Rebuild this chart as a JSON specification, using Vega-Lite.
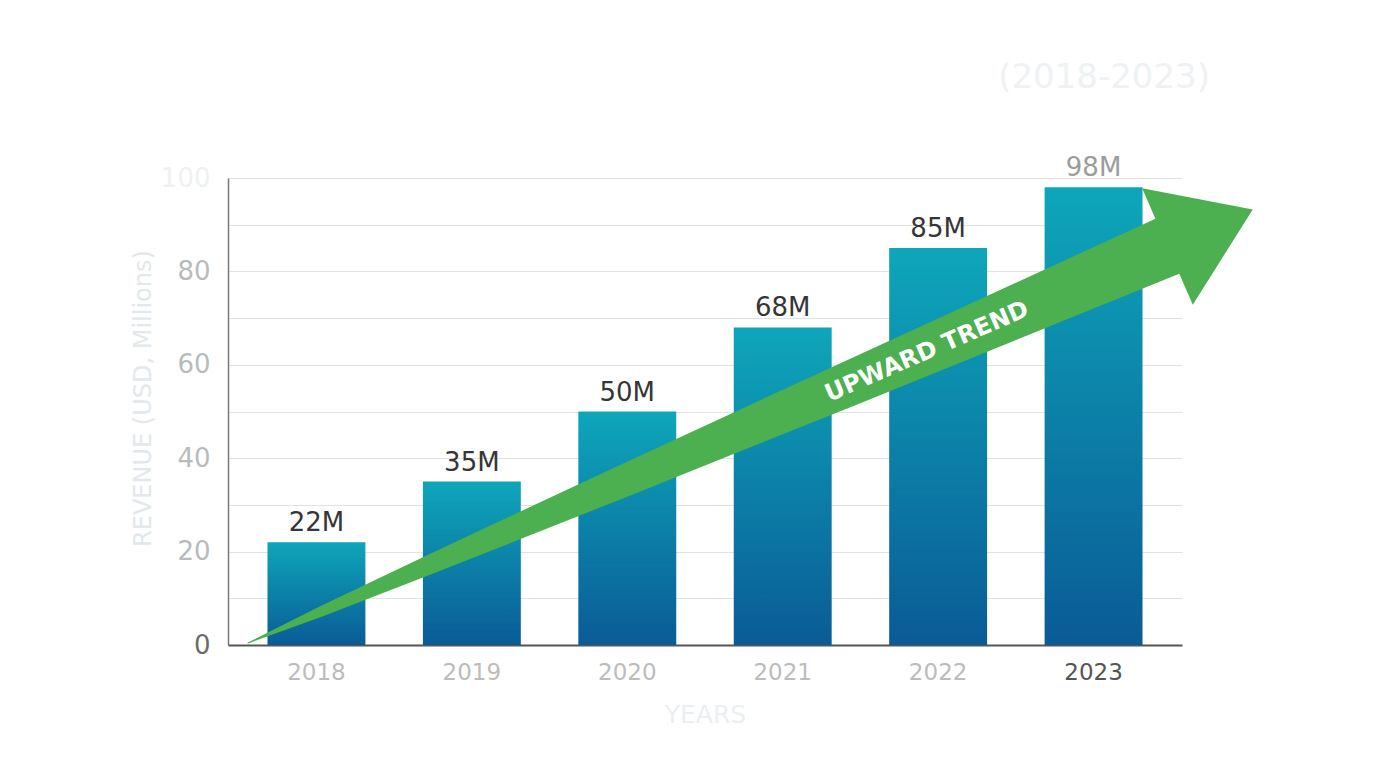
{
  "$schema": "https://vega.github.io/schema/vega-lite/v6.json",
  "autosize": {"type": "none"},
  "width": 954,
  "height": 467,
  "padding": {"left": 228, "top": 178, "right": 194, "bottom": 123},
  "background": "white",
  "config": {"font": "DejaVu Sans", "view": {"stroke": null}},
  "title": {
    "text": "(2018-2023)",
    "anchor": "end",
    "frame": "group",
    "fontSize": 34,
    "fontWeight": "normal",
    "color": "#eef2f5",
    "dx": 28,
    "offset": 60
  },
  "datasets": {
    "revenue": [
      {"year": "2018", "revenue": 22, "label": "22M"},
      {"year": "2019", "revenue": 35, "label": "35M"},
      {"year": "2020", "revenue": 50, "label": "50M"},
      {"year": "2021", "revenue": 68, "label": "68M"},
      {"year": "2022", "revenue": 85, "label": "85M"},
      {"year": "2023", "revenue": 98, "label": "98M"}
    ],
    "shaft": [
      {"pos": 2017.559, "level": 0.43, "t": 0},
      {"pos": 2018.033, "level": 7.24, "t": 0.08},
      {"pos": 2018.743, "level": 17.43, "t": 0.2},
      {"pos": 2019.927, "level": 34.43, "t": 0.4},
      {"pos": 2021.407, "level": 55.67, "t": 0.65},
      {"pos": 2023.479, "level": 85.44, "t": 1}
    ],
    "head": [
      {"pos": 2023.476, "level": 85.33}
    ],
    "note": [
      {"pos": 2021.929, "level": 62.74, "text": "UPWARD TREND"}
    ]
  },
  "resolve": {"scale": {"x": "independent"}},
  "layer": [
    {
      "data": {"name": "revenue"},
      "encoding": {
        "x": {
          "field": "year",
          "type": "nominal",
          "sort": null,
          "scale": {"paddingInner": 0.37, "paddingOuter": 0.254},
          "axis": {
            "title": "YEARS",
            "titleFontSize": 25,
            "titleFontWeight": "normal",
            "titleColor": "#eaeff3",
            "titlePadding": 18,
            "labelAngle": 0,
            "labelFontSize": 23,
            "labelColor": {"condition": {"test": "datum.label === '2023'", "value": "#555555"}, "value": "#bcbcbc"},
            "labelPadding": 16,
            "ticks": false,
            "domainColor": "#555555",
            "domainWidth": 2,
            "grid": false
          }
        },
        "y": {
          "field": "revenue",
          "type": "quantitative",
          "scale": {"domain": [0, 100], "nice": false},
          "axis": {
            "title": "REVENUE (USD, Millions)",
            "titleFontSize": 24,
            "titleFontWeight": "normal",
            "titleColor": "#e2e8ec",
            "titleBaseline": "alphabetic",
            "titleX": -78,
            "titleY": 220,
            "values": [0, 10, 20, 30, 40, 50, 60, 70, 80, 90, 100],
            "labelExpr": "datum.value % 20 === 0 ? datum.label : ''",
            "labelFontSize": 26,
            "labelColor": {
              "condition": [
                {"test": "datum.value === 0", "value": "#6b6b6b"},
                {"test": "datum.value === 100", "value": "#eef1f3"}
              ],
              "value": "#b8bbbd"
            },
            "labelPadding": 18,
            "ticks": false,
            "domainColor": "#7a7a7a",
            "domainWidth": 1.5,
            "gridColor": "#e2e2e2",
            "gridWidth": 1
          }
        }
      },
      "layer": [
        {
          "mark": {
            "type": "bar",
            "color": {
              "gradient": "linear",
              "x1": 0, "y1": 0, "x2": 0, "y2": 1,
              "stops": [
                {"offset": 0, "color": "#0ea6ba"},
                {"offset": 1, "color": "#0a5b96"}
              ]
            }
          }
        },
        {
          "mark": {"type": "text", "baseline": "alphabetic", "align": "center", "dy": -11, "fontSize": 26},
          "encoding": {
            "text": {"field": "label"},
            "color": {"condition": {"test": "datum.revenue === 98", "value": "#9c9c9c"}, "value": "#363636"}
          }
        }
      ]
    },
    {
      "layer": [
        {
          "data": {"name": "shaft"},
          "mark": {"type": "trail", "color": "#4caf50"},
          "encoding": {
            "x": {"field": "pos", "type": "quantitative", "scale": {"domain": [2017.4305, 2023.5695], "zero": false, "nice": false}, "axis": null},
            "y": {"field": "level", "type": "quantitative", "scale": {"domain": [0, 100], "nice": false}},
            "order": {"field": "t"},
            "size": {"field": "t", "type": "quantitative", "scale": {"type": "pow", "exponent": 0.7, "domain": [0, 1], "range": [0, 60]}, "legend": null}
          }
        },
        {
          "data": {"name": "head"},
          "mark": {"type": "point", "shape": "M0,-1L1.465,0L0,1Z", "size": 16129, "angle": 336.5, "filled": true, "color": "#4caf50", "opacity": 1, "strokeWidth": 0},
          "encoding": {
            "x": {"field": "pos", "type": "quantitative"},
            "y": {"field": "level", "type": "quantitative"}
          }
        },
        {
          "data": {"name": "note"},
          "mark": {"type": "text", "angle": 336.6, "fontSize": 24, "fontWeight": "bold", "color": "white", "align": "center", "baseline": "middle"},
          "encoding": {
            "x": {"field": "pos", "type": "quantitative"},
            "y": {"field": "level", "type": "quantitative"},
            "text": {"field": "text"}
          }
        }
      ]
    }
  ]
}
